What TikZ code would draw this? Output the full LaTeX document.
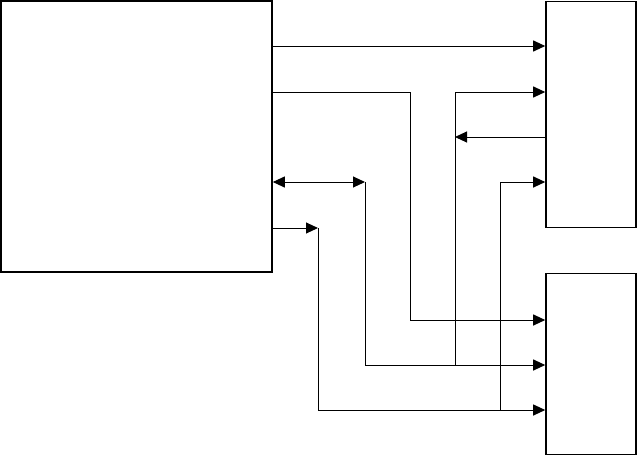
\documentclass[tikz,border=0pt]{standalone}
\usepackage{tikz}
\usetikzlibrary{arrows.meta,positioning,calc}

\begin{document}
\begin{tikzpicture}[x=1pt,y=-1pt,>={Triangle[length=12pt,width=11pt]},line width=1pt,
  unitbox/.style={draw,line width=1.6pt,inner sep=0pt}]
\useasboundingbox (0,0) rectangle (637,456);
\node[unitbox,minimum width=271pt,minimum height=271pt] (ctrl) at (136.5,136.5) {};
\node[unitbox,minimum width=90pt,minimum height=226pt] (devA) at (591,114.5) {};
\node[unitbox,minimum width=90pt,minimum height=181pt] (devB) at (591,364) {};
\coordinate (bendA) at (410,92);
\coordinate (bendB) at (365,182);
\coordinate (bendC) at (318,228);
\coordinate (tapA) at (455,365);
\coordinate (tapB) at (500,410);
\coordinate (tapAm) at (455,137);
\draw[->] (ctrl.east|-0,46) -- (devA.west|-0,46);
\draw[->] (ctrl.east|-bendA) -- (bendA) |- (devB.west|-0,320);
\draw[<->] (ctrl.east|-bendB) -- (bendB);
\draw[->] (bendB) |- (devB.west|-tapA);
\draw[->] (ctrl.east|-bendC) -- (bendC);
\draw[->] (bendC) |- (devB.west|-tapB);
\draw[->] (tapA) |- (devA.west|-0,92);
\draw[->] (devA.west|-tapAm) -- (tapAm);
\draw[->] (tapB) |- (devA.west|-bendB);
\end{tikzpicture}
\end{document}
